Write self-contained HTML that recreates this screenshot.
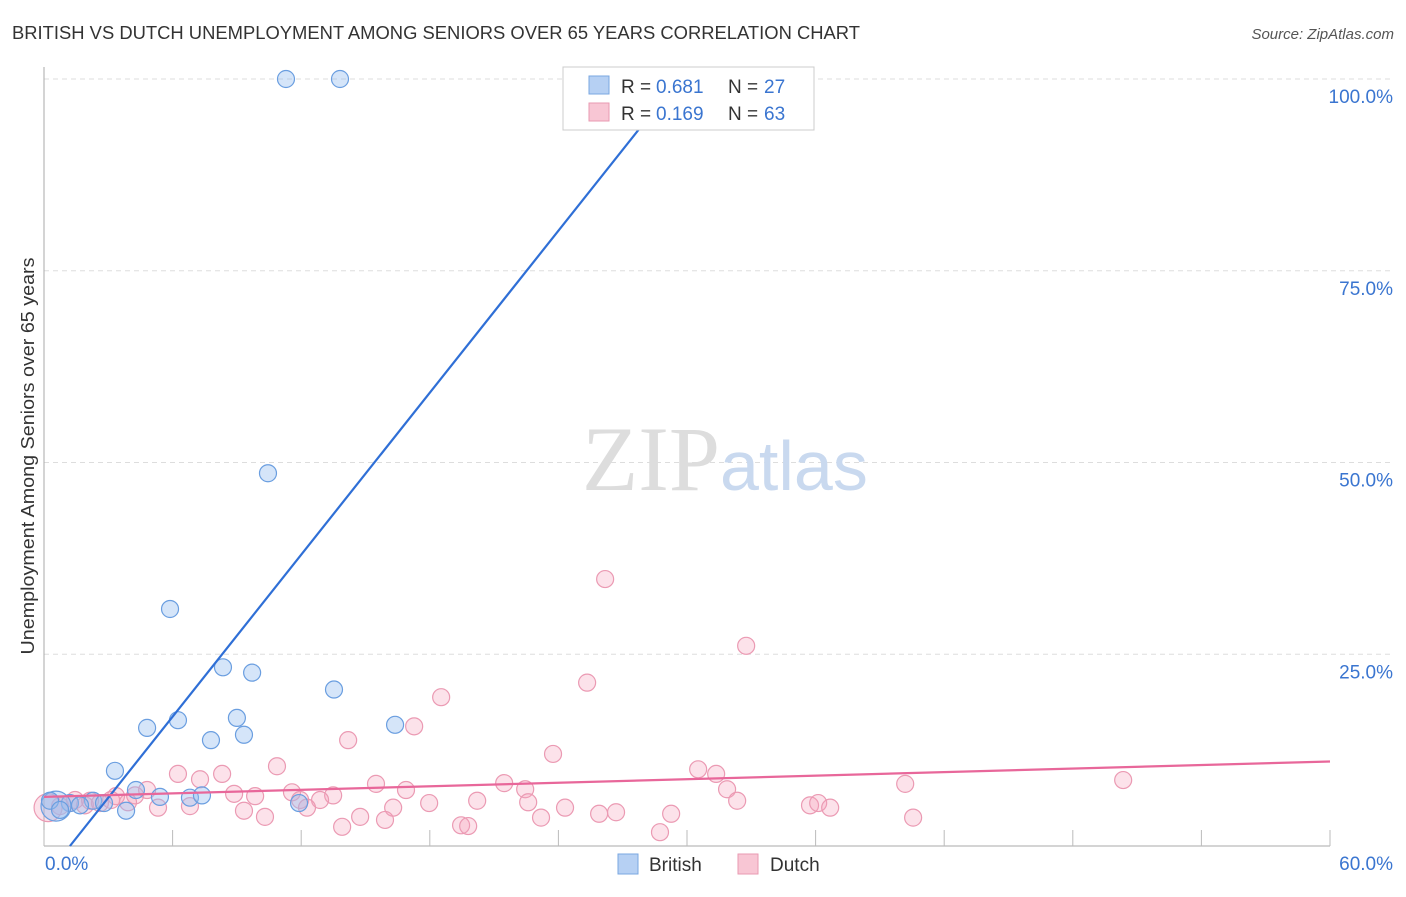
<!DOCTYPE html>
<html><head><meta charset="utf-8"><style>
body{margin:0;background:#fff;font-family:"Liberation Sans",sans-serif;}
svg text{font-family:"Liberation Sans",sans-serif;}
</style></head><body>
<svg width="1406" height="892">
<text x="12" y="39" font-size="18" fill="#333" textLength="848" lengthAdjust="spacingAndGlyphs">BRITISH VS DUTCH UNEMPLOYMENT AMONG SENIORS OVER 65 YEARS CORRELATION CHART</text>
<text x="1394" y="39" font-size="15" fill="#555" font-style="italic" text-anchor="end">Source: ZipAtlas.com</text>
<g id="grid"></g>
<text x="720" y="490" font-size="92" fill="#ddd" text-anchor="end" style="font-family:'Liberation Serif',serif">ZIP</text>
<text x="720" y="490" font-size="70" fill="#c9d9ef">atlas</text>
<g id="marks"></g>
<text transform="translate(34,456) rotate(-90)" font-size="18" fill="#333" text-anchor="middle" textLength="397" lengthAdjust="spacingAndGlyphs">Unemployment Among Seniors over 65 years</text>
<g>
<rect x="563" y="67" width="251" height="63" fill="#fff" stroke="#ccc"/>
<rect x="589" y="76" width="20" height="18" fill="#b6d0f3" stroke="#7aa7e0"/>
<rect x="589" y="103" width="20" height="18" fill="#f8c6d4" stroke="#e99ab2"/>
<text x="621" y="93" font-size="19" fill="#333">R = </text><text x="656" y="93" font-size="19" fill="#3a75d0">0.681</text>
<text x="728" y="93" font-size="19" fill="#333">N = </text><text x="764" y="93" font-size="19" fill="#3a75d0">27</text>
<text x="621" y="120" font-size="19" fill="#333">R = </text><text x="656" y="120" font-size="19" fill="#3a75d0">0.169</text>
<text x="728" y="120" font-size="19" fill="#333">N = </text><text x="764" y="120" font-size="19" fill="#3a75d0">63</text>
</g>
<g>
<rect x="618" y="854" width="20" height="20" fill="#b6d0f3" stroke="#7aa7e0"/>
<text x="649" y="871" font-size="19" fill="#333">British</text>
<rect x="738" y="854" width="20" height="20" fill="#f8c6d4" stroke="#e99ab2"/>
<text x="770" y="871" font-size="19" fill="#333">Dutch</text>
</g>
</svg>
<script>
const xTicks=[0,6,12,18,24,30,36,42,48,54,60];
const yTicks=[25,50,75,100];
const yTickLabels=["25.0%","50.0%","75.0%","100.0%"];
const britishX=[11.29,13.81,10.45,5.88,8.35,9.71,13.53,6.25,9.0,4.81,16.38,7.79,9.33,3.31,4.29,5.41,6.81,7.37,3.83,11.9,2.29,1.21,0.56,0.28,0.75,1.68,2.8];
const britishY=[100,100,48.6,30.9,23.3,22.6,20.4,16.4,16.7,15.4,15.8,13.8,14.5,9.8,7.3,6.4,6.3,6.6,4.6,5.6,5.9,5.6,5.2,5.9,4.7,5.3,5.6];
const dutchX=[26.18,32.76,25.34,18.53,17.27,14.19,23.75,10.87,30.52,31.36,50.35,40.18,6.25,8.31,7.28,4.81,3.36,4.25,8.87,9.85,11.57,13.49,15.49,16.89,21.47,22.45,31.87,32.34,22.59,20.21,17.97,12.88,11.95,6.81,5.32,9.33,10.31,12.27,13.91,14.75,16.29,15.91,19.46,19.79,23.19,24.31,25.9,26.69,28.74,29.26,35.74,36.12,36.68,40.55,1.21,1.91,2.61,0.75,3.92,0.19,3.13,1.45,2.15];
const dutchY=[34.8,26.1,21.3,19.4,15.6,13.8,12.0,10.4,10.0,9.4,8.6,8.1,9.4,9.4,8.7,7.3,6.5,6.6,6.8,6.5,7.0,6.6,8.1,7.3,8.2,7.4,7.4,5.9,5.7,5.9,5.6,6.0,6.0,5.2,5.0,4.6,3.8,5.0,2.5,3.8,5.0,3.4,2.7,2.6,3.7,5.0,4.2,4.4,1.8,4.2,5.3,5.6,5.0,3.7,5.6,5.3,5.6,5.2,5.7,5.0,6.0,6.0,5.9];
const britishTrend=[-4.26,3.52];
const dutchTrend=[6.4,0.077];
const X0=44,X1=1330,Y0=846,Y100=79;
const sx=v=>X0+(v/60)*(X1-X0);
const sy=v=>Y0-(v/100)*(Y0-Y100);
const NS="http://www.w3.org/2000/svg";
function mk(t,a,p){const e=document.createElementNS(NS,t);for(const k in a)e.setAttribute(k,a[k]);p.appendChild(e);return e;}
const grid=document.getElementById('grid'),marks=document.getElementById('marks');
yTicks.forEach((t,i)=>{
 const l=mk('line',{x1:X0,x2:1394,y1:sy(t),y2:sy(t),stroke:'#ddd','stroke-dasharray':'5,4'},grid);
 
 
 const tx=mk('text',{x:1393,y:sy(t)+24,'font-size':19,fill:'#3a75d0','text-anchor':'end'},grid);
 tx.textContent=yTickLabels[i];
 
 
});
const ax=mk('line',{x1:X0,x2:X0,y1:67,y2:Y0,stroke:'#aaa'},grid);


const bx=mk('line',{x1:X0,x2:X1,y1:Y0,y2:Y0,stroke:'#aaa'},grid);


xTicks.forEach(t=>{
 const l=mk('line',{x1:sx(t),x2:sx(t),y1:Y0,y2:Y0-16,stroke:'#bbb'},grid);
 
 
});
[[0,'0.0%','start',45],[60,'60.0%','end',1393]].forEach(a=>{
 const tx=mk('text',{x:a[3],y:870,'font-size':19,fill:'#3a75d0','text-anchor':a[2]},grid);
 tx.textContent=a[1];
 
 
});
dutchX.forEach((x,i)=>{
 const c=mk('circle',{cx:sx(x),cy:sy(dutchY[i]),r:i==59?14:8.5,fill:'rgba(244,160,185,0.3)',stroke:'#eb9ab3','stroke-width':1.2},marks);
 
 
});
britishX.forEach((x,i)=>{
 const c=mk('circle',{cx:sx(x),cy:sy(britishY[i]),r:i==22?15:8.5,fill:'rgba(150,190,240,0.4)',stroke:'#6a9ee0','stroke-width':1.2},marks);
 
 
});
const bxs=(0-britishTrend[0])/britishTrend[1], bxe=(100-britishTrend[0])/britishTrend[1];
const bl=mk('line',{x1:sx(bxs),y1:sy(0),x2:sx(bxe),y2:sy(100),stroke:'#2f6fd6','stroke-width':2.2},marks);


const dl=mk('line',{x1:sx(0),y1:sy(dutchTrend[0]),x2:sx(60),y2:sy(dutchTrend[0]+dutchTrend[1]*60),stroke:'#e8679a','stroke-width':2.2},marks);


</script>
</body></html>
